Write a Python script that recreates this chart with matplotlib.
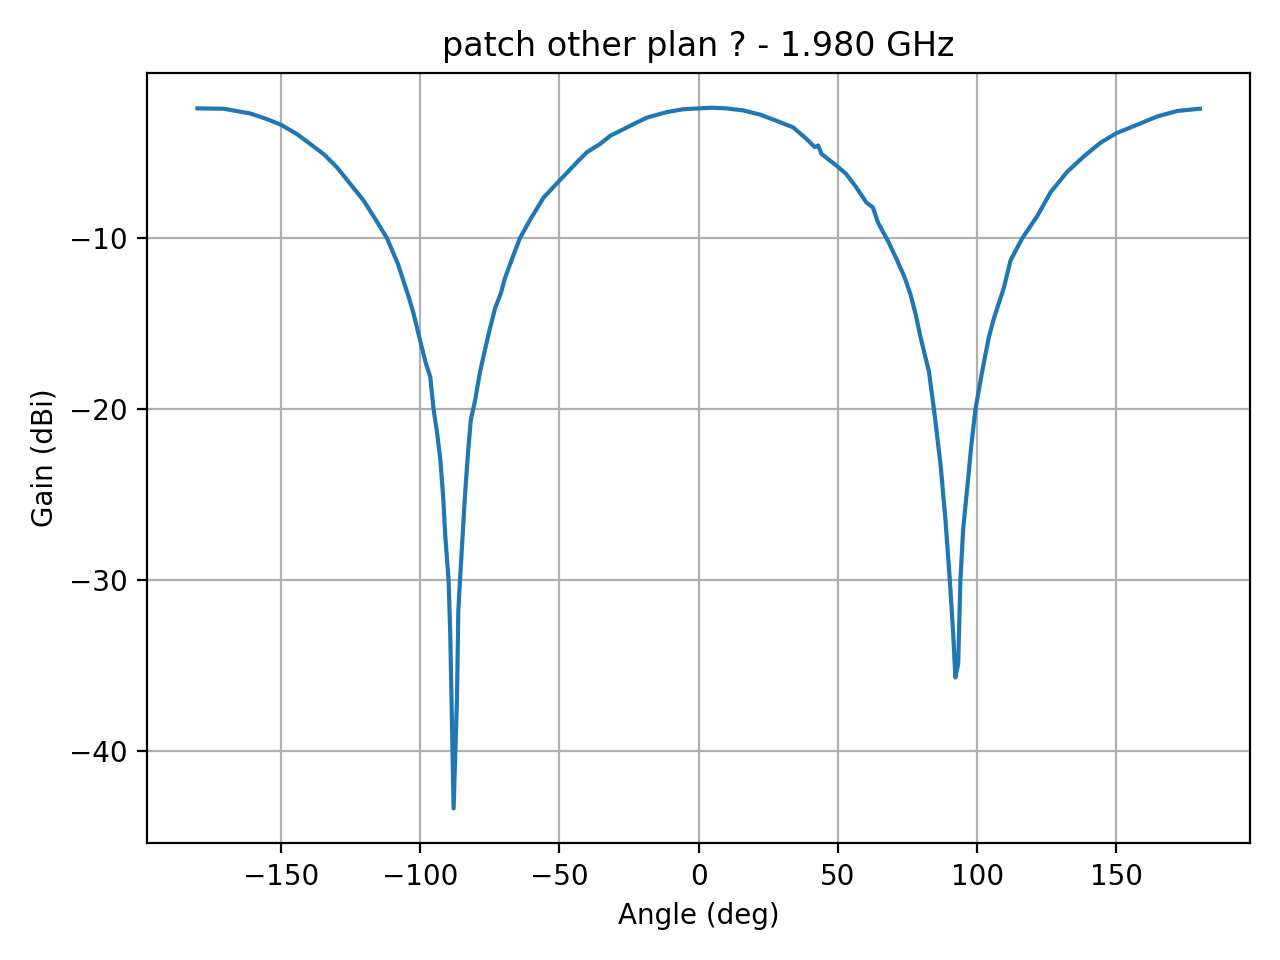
import matplotlib
matplotlib.use("Agg")
import matplotlib.pyplot as plt

angle_deg = [-180, -170.6, -161, -155, -150, -144.3, -139.5, -134.7, -129.9, -125.1, -120.3,
             -116.1, -111.9, -108, -106, -104, -102.4, -100, -98, -96.4, -95.2, -94,
             -92.8, -91.8, -91, -89.8, -89.2, -88, -86.8, -86.3, -85.7, -84.8, -83.9,
             -82.8, -81.8, -80.3, -78.5, -76.7, -75, -73.1, -71, -69.5, -67, -64.2,
             -60.4, -55.6, -50, -43.7, -40.1, -35.4, -31.7, -24.6, -18.6, -11.5, -5.5,
             0, 4.7, 10, 16, 22, 28, 33.9, 38.7, 41.7, 42.9, 44.1, 49.5, 53, 56.6,
             60.2, 62.6, 64.4, 68, 71.3, 74, 76.1, 78, 79.7,
             82.7, 84.5, 86.9, 88.6, 90.2, 91.4, 92.2, 93.2, 94, 95, 96.4, 98, 99.4,
             101.8, 104.2, 106, 109.6, 112, 114.9, 116.2, 121.6, 126.4, 132.4, 138.4,
             144.4, 150, 157.6, 164.7, 171.9, 180]
gain_dbi = [-2.4, -2.42, -2.7, -3.03, -3.36, -3.9, -4.48, -5.07, -5.85, -6.82, -7.8,
            -8.88, -10.0, -11.5, -12.5, -13.5, -14.4, -16.0, -17.3, -18.1, -20.0, -21.3,
            -22.9, -25.0, -27.4, -30.0, -33.2, -43.36, -37.0, -31.8, -30.0, -27.5, -25.0,
            -22.5, -20.6, -19.5, -17.8, -16.5, -15.3, -14.1, -13.2, -12.3, -11.2, -10.0,
            -8.88, -7.6, -6.63, -5.55, -4.96, -4.48, -4.0, -3.42, -2.94, -2.62, -2.45,
            -2.4, -2.36, -2.4, -2.52, -2.76, -3.13, -3.51, -4.18, -4.67, -4.57, -5.06, -5.75, -6.24, -7.02,
            -7.9, -8.2, -9.08, -10.16, -11.3, -12.3, -13.3, -14.5, -15.8,
            -17.8, -20.0, -23.3, -26.4, -30.0, -33.1, -35.7, -34.9, -30.0, -27.0, -24.7, -22.0, -20.0,
            -17.8, -15.8, -14.7, -12.9, -11.3, -10.4, -10.0, -8.7, -7.3, -6.1, -5.2,
            -4.4, -3.85, -3.35, -2.87, -2.55, -2.42]

fig, ax = plt.subplots(figsize=(6.4, 4.8), dpi=200)
ax.plot(angle_deg, gain_dbi)
ax.set_title("patch other plan ? - 1.980 GHz")
ax.set_xlabel("Angle (deg)")
ax.set_ylabel("Gain (dBi)")
ax.grid(True)
plt.tight_layout()
fig.savefig("out.png")
